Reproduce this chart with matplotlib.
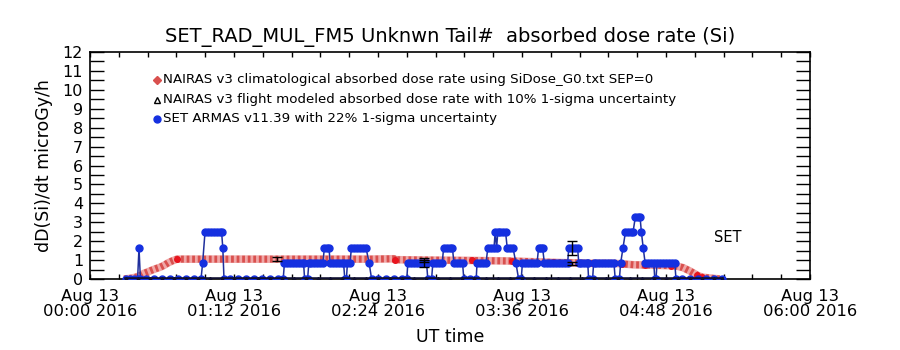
import matplotlib
matplotlib.use("Agg")
import matplotlib.pyplot as plt
from matplotlib.ticker import MultipleLocator, FixedLocator

plt.rcParams['font.family'] = ['DejaVu Sans']

# ---------------- data (time in minutes after 2016-08-13 00:00 UT) ----------------
title = "SET_RAD_MUL_FM5 Unknwn Tail#  absorbed dose rate (Si)"
ylabel = "dD(Si)/dt microGy/h"
xlabel = "UT time"
legend_labels = [
    "NAIRAS v3 climatological absorbed dose rate using SiDose_G0.txt SEP=0",
    "NAIRAS v3 flight modeled absorbed dose rate with 10% 1-sigma uncertainty",
    "SET ARMAS v11.39 with 22% 1-sigma uncertainty",
]
xtick_minutes = [0, 72, 144, 216, 288, 360]
xtick_labels = ["Aug 13\n00:00 2016", "Aug 13\n01:12 2016", "Aug 13\n02:24 2016",
                "Aug 13\n03:36 2016", "Aug 13\n04:48 2016", "Aug 13\n06:00 2016"]
ytick_values = list(range(0, 13))

# NAIRAS climatological (red)
clim_t = [17, 19, 21, 23, 25, 27, 29, 31, 33, 35, 37, 39, 41, 43.5, 60, 80, 100, 120,
          140, 152, 152.5, 170, 191, 211, 231.5, 251, 262, 266, 272, 277.5, 290.5,
          293.5, 296.5, 300, 303.5, 306, 310, 315]
clim_v = [0, 0.02, 0.05, 0.1, 0.18, 0.3, 0.38, 0.47, 0.55, 0.62, 0.72, 0.85, 0.95, 1.05,
          1.05, 1.05, 1.05, 1.05, 1.05, 1.07, 1.02, 1.0, 0.98, 0.95, 0.88, 0.83, 0.83,
          0.8, 0.75, 0.74, 0.7, 0.68, 0.6, 0.42, 0.21, 0.1, 0.05, 0]
clim_dot_t = [43.5, 152.5, 191, 211, 231.5, 251, 266, 277.5, 290.5, 303.5, 306]
clim_dot_v = [1.05, 1.02, 0.98, 0.95, 0.88, 0.83, 0.8, 0.74, 0.7, 0.21, 0.1]

# NAIRAS flight modeled (black triangles)
flight_t = [18, 24, 30, 36, 42, 48, 54, 60, 66, 72, 78, 84, 90, 96, 102, 108, 114,
            120, 126, 132, 138, 144, 150, 156, 162, 168, 174, 180, 186, 192, 198,
            204, 210, 216, 222, 228, 234, 240, 246, 252, 258, 264, 270, 276, 282,
            288, 294, 300, 306, 312, 316]
flight_v = [0] * 51
flight_err_t = [93.5, 167, 240.8]
flight_err_v = [1.05, 1.0, 0.84]

# SET ARMAS (blue)
armas_t = [18, 20, 22, 23.8, 24.5, 25.2, 28, 32, 36, 40, 44, 48, 52, 55.5,
           56.3, 57.5, 59, 60.5, 62, 63.5, 65, 65.8, 66.4, 67,
           70, 74, 78, 82, 86, 90, 94, 96.6,
           97.2, 98.6, 100, 101.5, 103, 104.5, 106, 106.8, 107.3,
           108.8, 109.4, 110.5, 112, 113.5, 115, 116.4, 117.2, 118.4, 119.5,
           120.1, 121.5, 123, 124.5, 126, 126.8, 127.4, 128.2, 128.7, 130,
           130.7, 132, 133.5, 135, 136.5, 138, 139.6, 140.8,
           144, 148, 152, 156, 158.4,
           158.9, 160.5, 162, 163.5, 165, 166.5, 168.3, 168.9, 170.8, 171.4,
           172.8, 174.3, 176.1, 176.8, 178.3, 179.8, 181.2, 182, 183.5, 185,
           186.3, 186.9, 190, 193.1,
           193.5, 195, 196.5, 198, 198.9, 200.5, 202, 202.6, 203.3, 203.9,
           205.2, 206.5, 207.8, 208.6, 210, 211.5, 213, 214.3,
           215.6, 216.2, 217.5, 219, 220.5, 222, 223.5, 224.3, 225.3, 226.3,
           227.2, 228.5, 230, 231.5, 233, 234.5, 236, 237.5, 238.8, 239.4,
           240.8, 242.3, 243.8, 244.4, 245.5, 247, 248.5, 248.9, 249.3,
           251.3, 251.8, 253, 254.5, 256, 257.5, 259, 260.5, 262, 262.6,
           264.7, 265.3, 266.5, 267.7, 269, 270.3, 271.5, 272.7, 274, 275,
           275.7, 276.6, 277.6, 279, 280.5, 281.9, 282.4, 283, 283.5, 285,
           286.5, 288, 289.5, 291, 292.4, 293,
           296, 300, 304, 308, 312, 316]
armas_v = [0, 0, 0, 0, 1.65, 0, 0, 0, 0, 0, 0, 0, 0, 0,
           0.82, 2.47, 2.47, 2.47, 2.47, 2.47, 2.47, 2.47, 1.65, 0,
           0, 0, 0, 0, 0, 0, 0, 0,
           0.82, 0.82, 0.82, 0.82, 0.82, 0.82, 0.82, 0.82, 0,
           0, 0.82, 0.82, 0.82, 0.82, 0.82, 0.82, 1.65, 1.65, 1.65,
           0.82, 0.82, 0.82, 0.82, 0.82, 0.82, 0, 0, 0.82, 0.82,
           1.65, 1.65, 1.65, 1.65, 1.65, 1.65, 0.82, 0,
           0, 0, 0, 0, 0,
           0.82, 0.82, 0.82, 0.82, 0.82, 0.82, 0.82, 0, 0, 0.82,
           0.82, 0.82, 0.82, 1.65, 1.65, 1.65, 1.65, 0.82, 0.82, 0.82,
           0.82, 0, 0, 0,
           0.82, 0.82, 0.82, 0.82, 1.65, 1.65, 1.65, 2.47, 1.65, 2.47,
           2.47, 2.47, 2.47, 1.65, 1.65, 1.65, 0.82, 0,
           0, 0.82, 0.82, 0.82, 0.82, 0.82, 0.82, 1.65, 1.65, 1.65,
           0.82, 0.82, 0.82, 0.82, 0.82, 0.82, 0.82, 0.82, 0.82, 1.65,
           1.65, 1.65, 1.65, 0.82, 0.82, 0.82, 0.82, 0.82, 0,
           0, 0.82, 0.82, 0.82, 0.82, 0.82, 0.82, 0.82, 0.82, 0,
           0, 0.82, 1.65, 2.47, 2.47, 2.47, 2.47, 3.3, 3.3, 3.3,
           2.47, 1.65, 0.82, 0.82, 0.82, 0.82, 0, 0, 0.82, 0.82,
           0.82, 0.82, 0.82, 0.82, 0.82, 0,
           0, 0, 0, 0, 0, 0]
armas_err_t = [167, 240.8]
armas_err_v = [0.82, 1.65]

# ---------------- figure ----------------
fig = plt.figure(figsize=(9, 3.5), dpi=100)
ax = fig.add_axes([90 / 900, 71 / 350, 720 / 900, 227 / 350])

RED = '#d9504e'
BLUE = '#1530e0'
NAVY = '#1f2f9c'

# climatological (red hatched band)
ax.plot(clim_t, clim_v, color='#f0a8a8', lw=5.5, solid_capstyle='butt', zorder=3)
ax.plot(clim_t, clim_v, color=RED, lw=5.0, ls=(0, (0.4, 0.4)), zorder=3)
ax.plot(clim_dot_t, clim_dot_v, ls='none', marker='o', ms=4, color='#e8141e',
        zorder=3)

# SET ARMAS (blue)
ax.plot(armas_t, armas_v, color=NAVY, lw=1.1, marker='o', ms=5.0,
        mfc=BLUE, mec=BLUE, zorder=4)

# flight modeled (black triangles) - zero baseline drawn on top
ax.plot(flight_t, flight_v, color='#101030', lw=2.6, marker='^', ms=3,
        ls='-', zorder=5)
ax.plot(flight_err_t, flight_err_v, ls='none', marker='^', ms=3,
        color='black', zorder=2)

# error bars
ax.errorbar(flight_err_t, flight_err_v, yerr=[0.1 * v for v in flight_err_v],
            fmt='none', ecolor='black', elinewidth=1.0, capsize=3.5, capthick=1.0,
            zorder=6)
ax.errorbar(armas_err_t, armas_err_v, yerr=[0.22 * v for v in armas_err_v],
            fmt='none', ecolor='black', elinewidth=1.0, capsize=3.5, capthick=1.0,
            zorder=6)

# axes
ax.set_xlim(0, 360)
ax.set_ylim(0, 12)
ax.xaxis.set_major_locator(FixedLocator(xtick_minutes))
ax.set_xticklabels(xtick_labels, fontsize=11.8, linespacing=1.05)
ax.xaxis.set_minor_locator(MultipleLocator(14.4))
ax.yaxis.set_major_locator(FixedLocator(ytick_values))
ax.set_yticklabels([str(v) for v in ytick_values], fontsize=11.5)
ax.yaxis.set_minor_locator(MultipleLocator(0.5))
ax.tick_params(axis='y', which='both', direction='in', length=10, width=1.0,
               left=True, right=True, pad=5)
ax.tick_params(axis='x', which='both', direction='in', length=3.5, width=1.0,
               top=True, bottom=True, pad=7)
for s in ax.spines.values():
    s.set_linewidth(1.2)

ax.set_ylabel(ylabel, fontsize=12.5, labelpad=7)
fig.text(0.5, 1 - 337 / 350, xlabel, ha='center', va='center', fontsize=12.5)
fig.text(0.5, 1 - 37 / 350, title, ha='center', va='center', fontsize=14)

# legend (manual, like the IDL plot)
leg_y = [0.877, 0.789, 0.705]
ax.plot([0.093], [leg_y[0]], transform=ax.transAxes, marker='D', ms=4,
        color=RED, clip_on=False)
ax.plot([0.093], [leg_y[1]], transform=ax.transAxes, marker='^', ms=4.5,
        mfc='white', mec='black', clip_on=False)
ax.plot([0.093], [leg_y[2]], transform=ax.transAxes, marker='o', ms=5,
        color=BLUE, clip_on=False)
for yy, lab in zip(leg_y, legend_labels):
    ax.text(0.101, yy, lab, transform=ax.transAxes, fontsize=9.6,
            ha='left', va='center')

ax.text(319, 2.2, "SET", fontsize=10.5, ha='center', va='center')

fig.savefig("out.png", dpi=100)
